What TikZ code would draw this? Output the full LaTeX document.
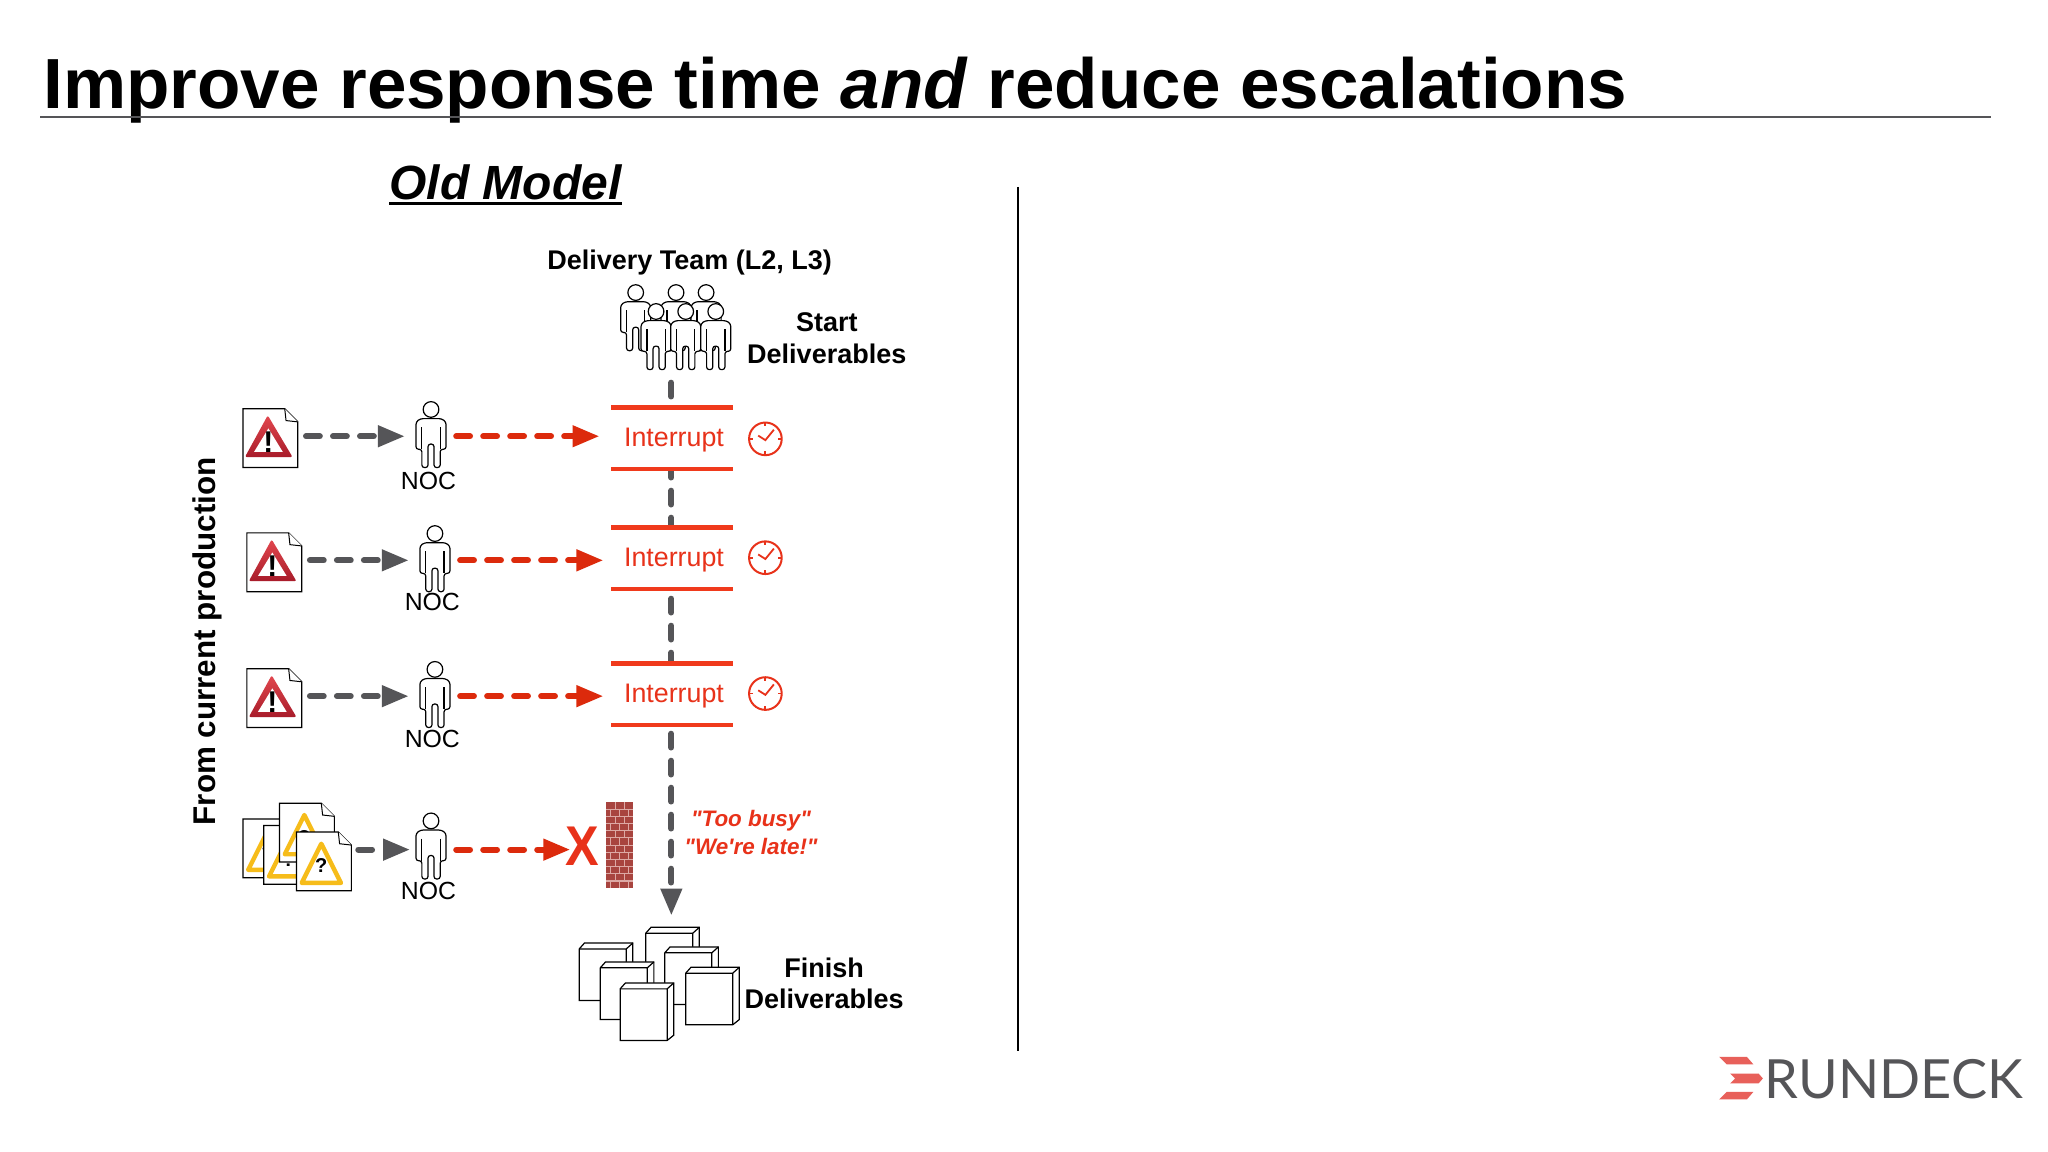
\documentclass[tikz,border=0pt]{standalone}
\usepackage{fontspec}
\setmainfont{Liberation Sans}
\newfontfamily\quotefont{Liberation Sans}
\newfontfamily\logofont{Lato}
\usetikzlibrary{arrows.meta,calc}
\definecolor{inkgray}{HTML}{555558}
\definecolor{arrowred}{HTML}{DC2A0C}
\definecolor{barred}{HTML}{F03A1C}
\definecolor{textred}{HTML}{E8321A}
\definecolor{warnyellow}{HTML}{F6BC1A}
\definecolor{brick}{HTML}{A8443F}
\definecolor{mortar}{HTML}{DDA9A5}
\definecolor{logored}{HTML}{E8605A}
\definecolor{warntop}{HTML}{E2474E}
\definecolor{warnbottom}{HTML}{A81C2A}
\tikzset{
  hit/.style 2 args={minimum width={(#1)*0.653pt},minimum height={(#2)*0.653pt},inner sep=0pt,outer sep=0pt},
  flowgray/.style={draw=inkgray,line width=3pt,line cap=round,dash pattern=on 6.9pt off 6.6pt,
    -{Triangle[length=13.5pt,width=10.2pt,fill=inkgray]}},
  flowred/.style={draw=arrowred,line width=3pt,line cap=round,dash pattern=on 6.9pt off 6.6pt,
    -{Triangle[length=13.5pt,width=10.2pt,fill=arrowred]}},
  outline/.style={draw=black,fill=white,line width=0.6pt},
  person/.pic={
    \draw[outline,rounded corners=1.3pt] (-8,13.5)--(8,13.5)--(11.5,16)--(11.5,37)--(7,37)--(7,51)--(2.3,51)--(2.3,33)--(-2.3,33)--(-2.3,51)--(-7,51)--(-7,37)--(-11.5,37)--(-11.5,16)--cycle;
    \draw[draw=black,line width=0.6pt] (7,20)--(7,37) (-7,20)--(-7,37);
    \draw[outline] (0,6.5) circle[radius=6];
  },
  page/.pic={
    \draw[draw=black,fill=white,line width=0.6pt] (0,0)--(32,0)--(42,10)--(42,45)--(0,45)--cycle;
    \draw[draw=black,fill=white,line width=0.5pt] (32,0)--(33,9)--(42,10);
  },
  redwarn/.pic={
    \pic {page};
    \path[top color=warntop,bottom color=warnbottom,rounded corners=1pt] (19,5)--(38,37)--(1.5,37)--cycle;
    \fill[white] (19.5,15)--(30.5,33)--(8.5,33)--cycle;
    \node[font=\bfseries\fontsize{15}{15}\selectfont,inner sep=0pt] (mark) at (19.5,25.5) {!};
  },
  yellowwarn/.pic={
    \pic {page};
    \draw[warnyellow,line width=2.2pt,line join=round] (19,9)--(34,39)--(4,39)--cycle;
    \node[font=\bfseries\fontsize{10}{10}\selectfont,inner sep=0pt] (mark) at (19,26) {?};
  },
  cube/.pic={
    \draw[outline] (0,4.5)--(4,0)--(41,0)--(41,40)--(36,44)--(0,44)--cycle;
    \draw[draw=black,line width=0.6pt] (0,4.5)--(36,4.5)--(36,44) (36,4.5)--(41,0);
  },
  clockface/.pic={
    \draw[textred,line width=1pt] (0,0) circle[radius=12.5];
    \draw[textred,line width=0.9pt] (0,-12.5)--(0,-9.5) (0,12.5)--(0,9.5) (-12.5,0)--(-9.5,0) (12.5,0)--(9.5,0);
    \draw[textred,line width=0.9pt] (-5.5,-2.5)--(0,1)--(6.5,-7);
  },
  label/.style={font=\fontsize{12.4}{14}\selectfont,inner sep=0pt},
  boldlabel/.style={font=\bfseries\fontsize{13.5}{15.7}\selectfont,inner sep=0pt,align=center},
  redquote/.style={font=\quotefont\bfseries\itshape\fontsize{11.2}{13}\selectfont,text=textred,inner sep=0pt},
}
\begin{document}
\begin{tikzpicture}[x=0.653pt,y=-0.653pt]
\useasboundingbox (0,0) rectangle (1568,882);
\fill[white] (0,0) rectangle (1568,882);

% Title
\node[anchor=base west,inner sep=0pt,font=\bfseries\fontsize{35.5}{40}\selectfont] (title) at (33,83) {Improve response time \textit{and} reduce escalations};
\draw[draw=inkgray,line width=1pt] (31,89.5) -- (1524,89.5);

% Left header and divider
\node[inner sep=0pt,font=\bfseries\itshape\fontsize{24}{26}\selectfont] (oldmodel) at (387,140) {Old Model};
\draw[black,line width=1.5pt] (298,155.5) -- (476,155.5);
\draw[black,line width=1pt] (779.5,143) -- (779.5,805);

\node[boldlabel,font=\bfseries\fontsize{15.7}{18}\selectfont,rotate=90] (source) at (159,491) {From current production};
\node[boldlabel] (teamlabel) at (528,201) {Delivery Team (L2, L3)};
\node[boldlabel] (startlabel) at (633,259) {Start\\Deliverables};
\node[boldlabel] (finishlabel) at (631,753) {Finish\\Deliverables};

% Hit areas for connectors
\node[hit={92}{75}] (team) at (514,255.5) {};
\node[hit={142}{96}] (deliv) at (514,749) {};

% Main delivery line, passing behind the interrupt boxes
\draw[flowgray] (team.south) -- (deliv.north);

% Delivery team
\foreach \px in {486.7,517.6,540.6} {\pic at (\px,217.5) {person};}
\foreach \px in {502.3,525,548} {\pic at (\px,232) {person};}

% Three interrupted rows
\foreach \i/\dx/\docy/\rowy/\pertop/\nocx/\nocy/\bara/\barb/\txty/\clky in {
  1/0/313/334/307/328/368/312/359/337/336,
  2/3/408/429/402/331/461/404/451/429/427,
  3/3/512/533/506/331/566/508/555/533/531}{
  \pic (doca\i) at ({186+\dx},\docy) {redwarn};
  \node[hit={46}{40}] (doc\i) at ({209+\dx},\rowy) {};
  \pic at ({330+\dx},\pertop) {person};
  \node[hit={37}{54}] (noc\i) at ({328.5+\dx},\rowy) {};
  \node[label] (noclabel\i) at (\nocx,\nocy) {NOC};
  \node[hit={93}{\barb-\bara},fill=white] (int\i) at (514.5,{(\bara+\barb)/2}) {};
  \node[font=\fontsize{13.4}{15}\selectfont,text=textred,inner sep=0pt] (inttext\i) at (516,\txty) {Interrupt};
  \draw[barred,line width=2.2pt] (468,\bara) -- (561,\bara);
  \draw[barred,line width=2.2pt] (468,\barb) -- (561,\barb);
  \pic at (586,\clky) {clockface};
  \draw[flowgray,shorten <=1.5pt] (doc\i.east) -- (noc\i.west);
  \draw[flowred,shorten <=1.5pt,shorten >={(9-\dx)*0.653pt}] (noc\i.east) -- (noc\i.east -| int\i.west);
}

% Fourth row: alert pile, wall
\pic (pile1) at (186,627) {yellowwarn};
\pic (pile2) at (202,632) {yellowwarn};
\pic (pile3) at (214,615) {yellowwarn};
\pic (pile4) at (227,637) {yellowwarn};
\node[hit={86}{40}] (pile) at (229,650.5) {};
\pic at (330,622) {person};
\node[hit={33}{54}] (noc4) at (330.5,650.5) {};
\node[label] (noclabel4) at (328,682) {NOC};
\draw[flowgray,dash pattern=on 6.9pt off 20pt,shorten <=1.5pt] (pile.east) -- (noc4.west);
\node[inner sep=0pt,text=textred,font=\bfseries\fontsize{28}{28}\selectfont,xscale=0.9] (stop) at (446,648) {X};
\draw[flowred,shorten <=1.5pt,shorten >=-2.5pt] (noc4.east) -- (noc4.east -| stop.west);

% Brick wall
\fill[brick] (464,614) rectangle (485,680);
\foreach \r in {1,...,11} {\draw[mortar,line width=0.55pt] (464,{614+5.5*\r}) -- (485,{614+5.5*\r});}
\foreach \r in {0,2,4,6,8,10} {
  \draw[mortar,line width=0.5pt] (471,{614+5.5*\r}) -- (471,{619.5+5.5*\r}) (478,{614+5.5*\r}) -- (478,{619.5+5.5*\r});
  \draw[mortar,line width=0.5pt] (467.5,{619.5+5.5*\r}) -- (467.5,{625+5.5*\r}) (474.5,{619.5+5.5*\r}) -- (474.5,{625+5.5*\r}) (481.5,{619.5+5.5*\r}) -- (481.5,{625+5.5*\r});
}
\node[redquote] (busy) at (575,628) {"Too busy"};
\node[redquote] (late) at (575,648) {"We're late!"};

% Deliverable boxes
\pic at (443.5,722) {cube};
\pic at (494.4,710) {cube};
\pic at (509,725) {cube};
\pic at (525,740.6) {cube};
\pic at (459.6,736.5) {cube};
\pic at (474.8,752.6) {cube};

% Logo
\fill[logored] (1316.2,809.1)--(1337.4,809.1)--(1342.5,815)--(1322.1,815)--cycle;
\fill[logored] (1324.7,821.9)--(1346.4,821.9)--(1349.7,825.7)--(1346.4,829.5)--(1324.7,829.5)--(1328.5,825.7)--cycle;
\fill[logored] (1322.1,835.9)--(1342.5,835.9)--(1337.4,841.8)--(1316.2,841.8)--cycle;
\node[anchor=base west,inner sep=0pt,text=inkgray,font=\logofont\fontsize{27}{27}\selectfont] (logo) at (1351,841) {RUNDECK};
\end{tikzpicture}
\end{document}
